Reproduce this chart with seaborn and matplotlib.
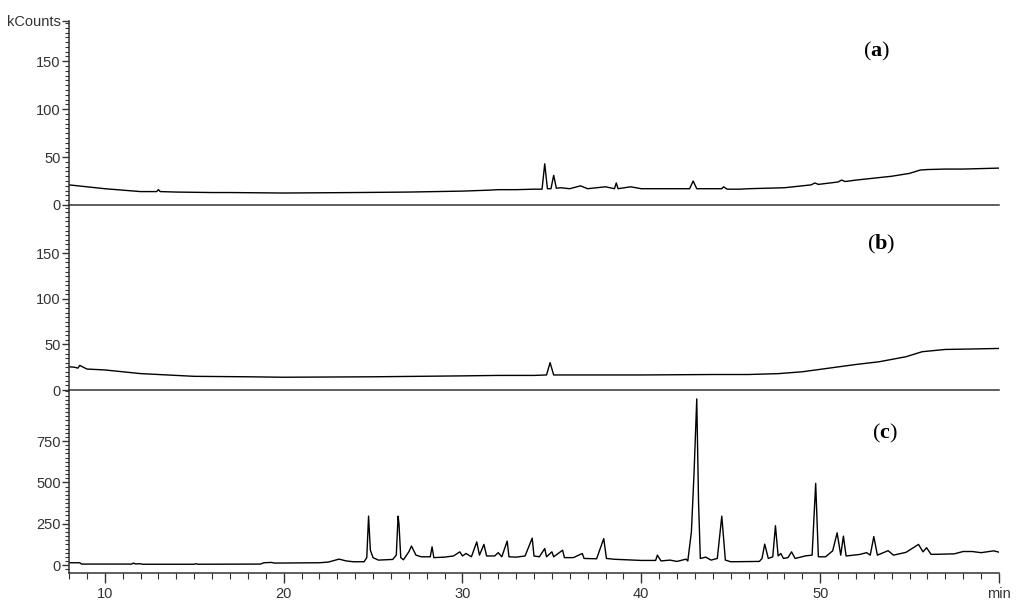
import numpy as np
import matplotlib as mpl
mpl.use('Agg')
import matplotlib.pyplot as plt
import seaborn as sns
import pandas as pd
from matplotlib.ticker import MultipleLocator

# ----- trace (a)
a_time = [8.0, 8.5, 9.0, 10.0, 11.0, 12.0, 12.9, 13.0, 13.1, 14.0, 16.0, 17.0,
          20.0, 24.0, 27.0, 30.0, 31.5, 32.0, 33.0, 34.0, 34.45, 34.6, 34.75,
          34.95, 35.1, 35.25, 35.5, 36.0, 36.6, 37.0, 38.0, 38.5, 38.6, 38.7,
          39.4, 40.0, 42.7, 42.9, 43.1, 44.0, 44.5, 44.6, 44.8, 45.5, 46.0,
          48.0, 49.5, 49.7, 49.9, 51.0, 51.2, 51.4, 52.0, 53.0, 54.0, 55.0,
          55.6, 56.0, 57.0, 58.0, 59.0, 60.0]
a_kcounts = [21, 20, 19, 17, 15.5, 14, 14, 16, 14, 13.5, 13, 13,
             12.5, 13, 13.5, 14.5, 15.5, 16, 16, 16.5, 16.5, 43, 17,
             17, 31, 17.5, 18, 17, 20, 17, 19, 17, 23, 17,
             19, 17, 17, 25, 17, 17, 17, 19, 16.5, 16.5, 17,
             18, 21, 23, 21.5, 24, 26, 24.5, 26, 28, 30, 33,
             36.5, 37, 37.5, 37.5, 38, 38.5]

# ----- trace (b)
b_time = [8.0, 8.3, 8.5, 8.6, 9.0, 10.0, 11.0, 12.0, 13.0, 15.0, 18.0, 20.0,
          25.0, 30.0, 32.0, 34.0, 34.7, 34.9, 35.1, 36.0, 40.0, 44.0, 46.0,
          47.7, 49.0, 50.5, 52.0, 53.3, 54.8, 55.7, 57.0, 58.5, 60.0]
b_kcounts = [25.5, 25, 24, 27, 23, 22, 20, 18, 17, 15, 14.5, 14,
             14.5, 15.5, 16, 16, 16.5, 30, 16.5, 16.5, 16.5, 17, 17,
             18, 20, 24, 28, 31, 36.5, 42, 44.5, 45, 45.6]

# ----- trace (c)
c_time = [8.0, 8.6, 8.7, 11.5, 11.6, 11.7, 12.0, 12.1, 14.0, 15.0, 15.1, 15.2,
          18.7, 18.9, 19.3, 19.5, 22.0, 22.5, 23.1, 23.5, 23.9, 24.5, 24.65,
          24.75, 24.85, 25.0, 25.3, 26.1, 26.3, 26.4, 26.45, 26.55, 26.7, 27.0,
          27.15, 27.4, 27.7, 28.2, 28.3, 28.4, 29.0, 29.5, 29.85, 30.0, 30.2,
          30.5, 30.8, 30.95, 31.2, 31.35, 31.8, 32.0, 32.2, 32.5, 32.6, 33.0,
          33.5, 33.9, 34.0, 34.3, 34.6, 34.7, 35.0, 35.1, 35.6, 35.7, 36.2,
          36.7, 36.8, 37.5, 37.9, 38.05, 38.5, 39.5, 40.0, 40.8, 40.9, 41.1,
          41.6, 42.0, 42.5, 42.6, 42.8, 42.95, 43.1, 43.2, 43.3, 43.6, 43.9,
          44.25, 44.5, 44.7, 45.0, 46.6, 46.75, 46.9, 47.1, 47.35, 47.5, 47.65,
          47.8, 47.95, 48.2, 48.4, 48.6, 49.2, 49.55, 49.75, 49.9, 50.3, 50.7,
          50.95, 51.15, 51.3, 51.45, 52.2, 52.6, 52.8, 53.0, 53.2, 53.8, 54.1,
          54.8, 55.5, 55.75, 55.95, 56.2, 56.5, 57.5, 58.0, 58.5, 59.0, 59.7,
          60.0]
c_kcounts = [14, 14, 6, 6, 12, 7, 8, 5, 5, 5, 8, 5,
             6, 14, 16, 12, 14, 18, 36, 25, 20, 20, 45,
             296, 90, 45, 30, 34, 60, 296, 250, 45, 32, 80,
             115, 60, 50, 50, 110, 45, 48, 55, 80, 55, 70,
             50, 140, 60, 125, 55, 55, 75, 50, 145, 50, 48,
             55, 163, 55, 50, 100, 50, 80, 50, 90, 45, 45,
             70, 40, 38, 160, 40, 35, 30, 28, 28, 60, 25,
             30, 22, 36, 25, 200, 560, 1005, 380, 40, 48, 30,
             40, 296, 30, 20, 22, 40, 127, 40, 50, 238, 55,
             70, 40, 45, 80, 40, 56, 60, 494, 50, 50, 86,
             195, 60, 175, 55, 64, 75, 60, 172, 60, 87, 60,
             77, 125, 80, 105, 65, 65, 68, 82, 82, 75, 86,
             78]

panel_labels = ["a", "b", "c"]
x_labels = ["10", "20", "30", "40", "50", "min"]

sns.set_theme(style="white")
plt.rcParams['font.family'] = ['Liberation Sans', 'DejaVu Sans']
plt.rcParams['mathtext.fontset'] = 'custom'
plt.rcParams['mathtext.rm'] = 'Liberation Serif'
plt.rcParams['mathtext.bf'] = 'Liberation Serif:bold'

tick_col = "#333333"
fig = plt.figure(figsize=(10.24, 6.08), dpi=100)
W, H = 1024., 608.
left, right = 69 / W, 999 / W
bounds = [(21, 205), (205, 390), (390, 573)]
axes = []
for top, bot in bounds:
    ax = fig.add_axes([left, 1 - bot / H, right - left, (bot - top) / H])
    axes.append(ax)

traces = [(a_time, a_kcounts), (b_time, b_kcounts), (c_time, c_kcounts)]
for ax, (t, v) in zip(axes, traces):
    df = pd.DataFrame({"t": t, "v": v})
    sns.lineplot(data=df, x="t", y="v", ax=ax, color="black", lw=1.0,
                 estimator=None, sort=False)
    ax.set_xlim(8, 60)
    ax.set_xlabel("")
    ax.set_ylabel("")
    ax.patch.set_alpha(0)
    for s in ["top", "right"]:
        ax.spines[s].set_visible(False)
    for s in ["left", "bottom"]:
        ax.spines[s].set_color(tick_col)
        ax.spines[s].set_linewidth(1.1)
    ax.tick_params(axis='y', which='major', direction='out', length=5,
                   width=1, colors=tick_col, pad=1, labelsize=10.5, left=True)
    ax.tick_params(axis='y', which='minor', direction='out', length=3,
                   width=0.8, colors=tick_col, left=True)

# panel (a)
axes[0].set_ylim(0, 192)
axes[0].set_yticks([0, 50, 100, 150, 192])
axes[0].set_yticklabels(["0", "50", "100", "150", "kCounts"])
axes[0].yaxis.set_minor_locator(MultipleLocator(5))
# panel (b)
axes[1].set_ylim(0, 203)
axes[1].set_yticks([0, 50, 100, 150])
axes[1].yaxis.set_minor_locator(MultipleLocator(5))
# panel (c)
axes[2].set_ylim(-48, 1059)
axes[2].set_yticks([0, 250, 500, 750])
axes[2].yaxis.set_minor_locator(MultipleLocator(25))

for ax in axes[:2]:
    ax.tick_params(axis='x', which='both', bottom=False, labelbottom=False)

axc = axes[2]
axc.set_xticks([10, 20, 30, 40, 50, 60])
axc.set_xticklabels(x_labels)
axc.xaxis.set_minor_locator(MultipleLocator(1))
axc.tick_params(axis='x', which='major', direction='out', length=7, width=1,
                colors=tick_col, pad=3, labelsize=10.5, bottom=True)
axc.tick_params(axis='x', which='minor', direction='out', length=4, width=0.8,
                colors=tick_col, bottom=True)

label_pos = [(877, 51), (881, 244), (885, 433)]
for lab, (px, py) in zip(panel_labels, label_pos):
    fig.text(px / W, 1 - py / H, r"$(\mathbf{" + lab + "})$", fontsize=16,
             ha="center", va="center", color="black")

plt.savefig("out.png", dpi=100)
